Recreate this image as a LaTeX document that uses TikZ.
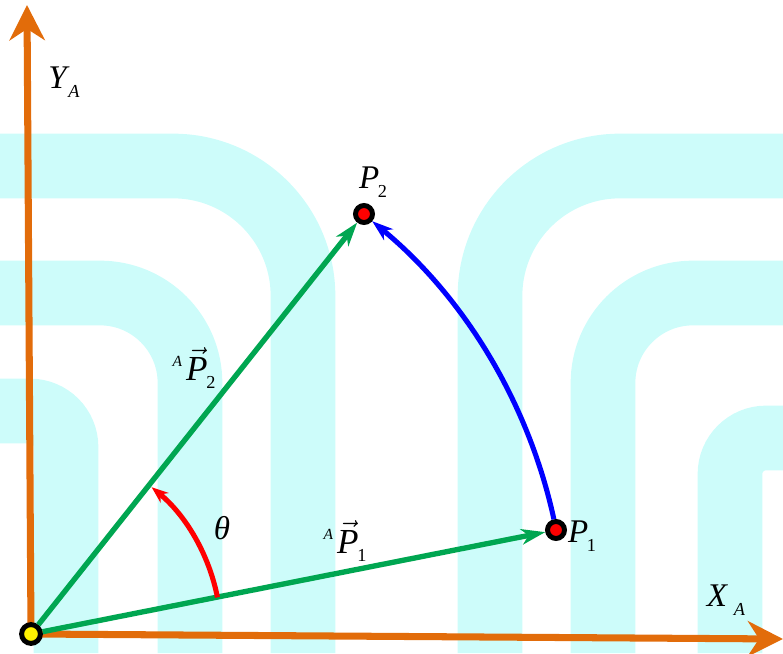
\documentclass[tikz,border=0pt]{standalone}
\usepackage{amsmath}
\usepackage{fontspec}
\setmainfont{Liberation Serif}
\usepackage{tikz}
\usetikzlibrary{arrows.meta,positioning}
\definecolor{axisorange}{RGB}{226,108,10}
\definecolor{vecgreen}{RGB}{0,166,81}
\definecolor{markcyan}{RGB}{205,252,250}

\newcommand{\lblsub}[3][-1pt]{\textit{#2}\kern#1\raisebox{-6pt}{\fontsize{13}{13}\selectfont #3}}
\newcommand{\lblvec}[2]{\raisebox{10pt}{\fontsize{11}{11}\selectfont\itshape A}\kern3pt$\vec{\text{\itshape #1}}$\kern-1pt\raisebox{-6pt}{\fontsize{13}{13}\selectfont #2}}

\begin{document}
\begin{tikzpicture}[x=0.025cm, y=0.025cm,
  axisline/.style={draw=axisorange, line width=5pt, -{Stealth[length=25pt,width=25pt,inset=8pt]}},
  vecline/.style={draw=vecgreen, line width=3.8pt, -{Stealth[length=17pt,width=11pt,inset=5pt]}},
  rotarc/.style={draw=blue, line width=3.6pt, -{Stealth[length=15pt,width=10pt,inset=4.5pt]}},
  anglearc/.style={draw=red, line width=3.6pt, -{Stealth[length=12pt,width=9pt,inset=4pt]}},
  pointdot/.style={circle, draw=black, fill=red, line width=3.5pt, minimum size=0.425cm, inner sep=0pt},
  origindot/.style={pointdot, fill=yellow, minimum size=0.47cm},
  lbltext/.style={font=\fontsize{23.5}{28}\selectfont, inner sep=0pt},
  vectext/.style={font=\fontsize{25}{30}\selectfont, inner sep=0pt},
  band/.style={draw=markcyan, line width=46pt}]
  \useasboundingbox (0,0) rectangle (783,653);
  % watermark
  \draw[band, rounded corners=3.25cm] (0,487) -- (303,487) -- (303,0);
  \draw[band, rounded corners=2.25cm] (0,360) -- (190,360) -- (190,0);
  \draw[band, rounded corners=0.9cm] (0,242) -- (66,242) -- (66,0);
  \draw[band, rounded corners=3.25cm] (783,487) -- (490,487) -- (490,0);
  \draw[band, rounded corners=2.25cm] (783,360) -- (603,360) -- (603,0);
  \draw[band, rounded corners=0.9cm] (783,215) -- (730,215) -- (730,0);
  % axes
  \coordinate (o) at (31,19);
  \coordinate (ytip) at (27,648);
  \coordinate (xtip) at (783,14);
  \draw[axisline] (o) -- (ytip);
  \draw[axisline] (o) -- (xtip);
  % points
  \node[origindot] (O) at (o) {};
  \node[pointdot] (P1) at (556,123) {};
  \node[pointdot] (P2) at (364,439) {};
  % vectors and rotation
  \draw[vecline] (O) -- (P1);
  \draw[vecline] (O) -- (P2);
  \draw[rotarc] (P1.101) arc[start angle=12.3, end angle=50.45, radius=534.2];
  \draw[anglearc] ([shift={(11.12:190)}]O.center) arc[start angle=11.12, end angle=50.6, radius=190];
  % labels
  \node[lbltext] (ya) at (64,571) {\lblsub{Y}{\itshape A}};
  \node[lbltext] (xa) at (726,53) {\lblsub[4pt]{X}{\itshape A}};
  \node[lbltext] (p2lbl) at (373,471) {\lblsub{P}{2}};
  \node[lbltext] (p1lbl) at (582,117) {\lblsub{P}{1}};
  \node[vectext] (v2lbl) at (194,285) {\lblvec{P}{2}};
  \node[vectext] (v1lbl) at (345,112) {\lblvec{P}{1}};
  \node[lbltext] (thlbl) at (222,125) {\textit{θ}};
\end{tikzpicture}
\end{document}
